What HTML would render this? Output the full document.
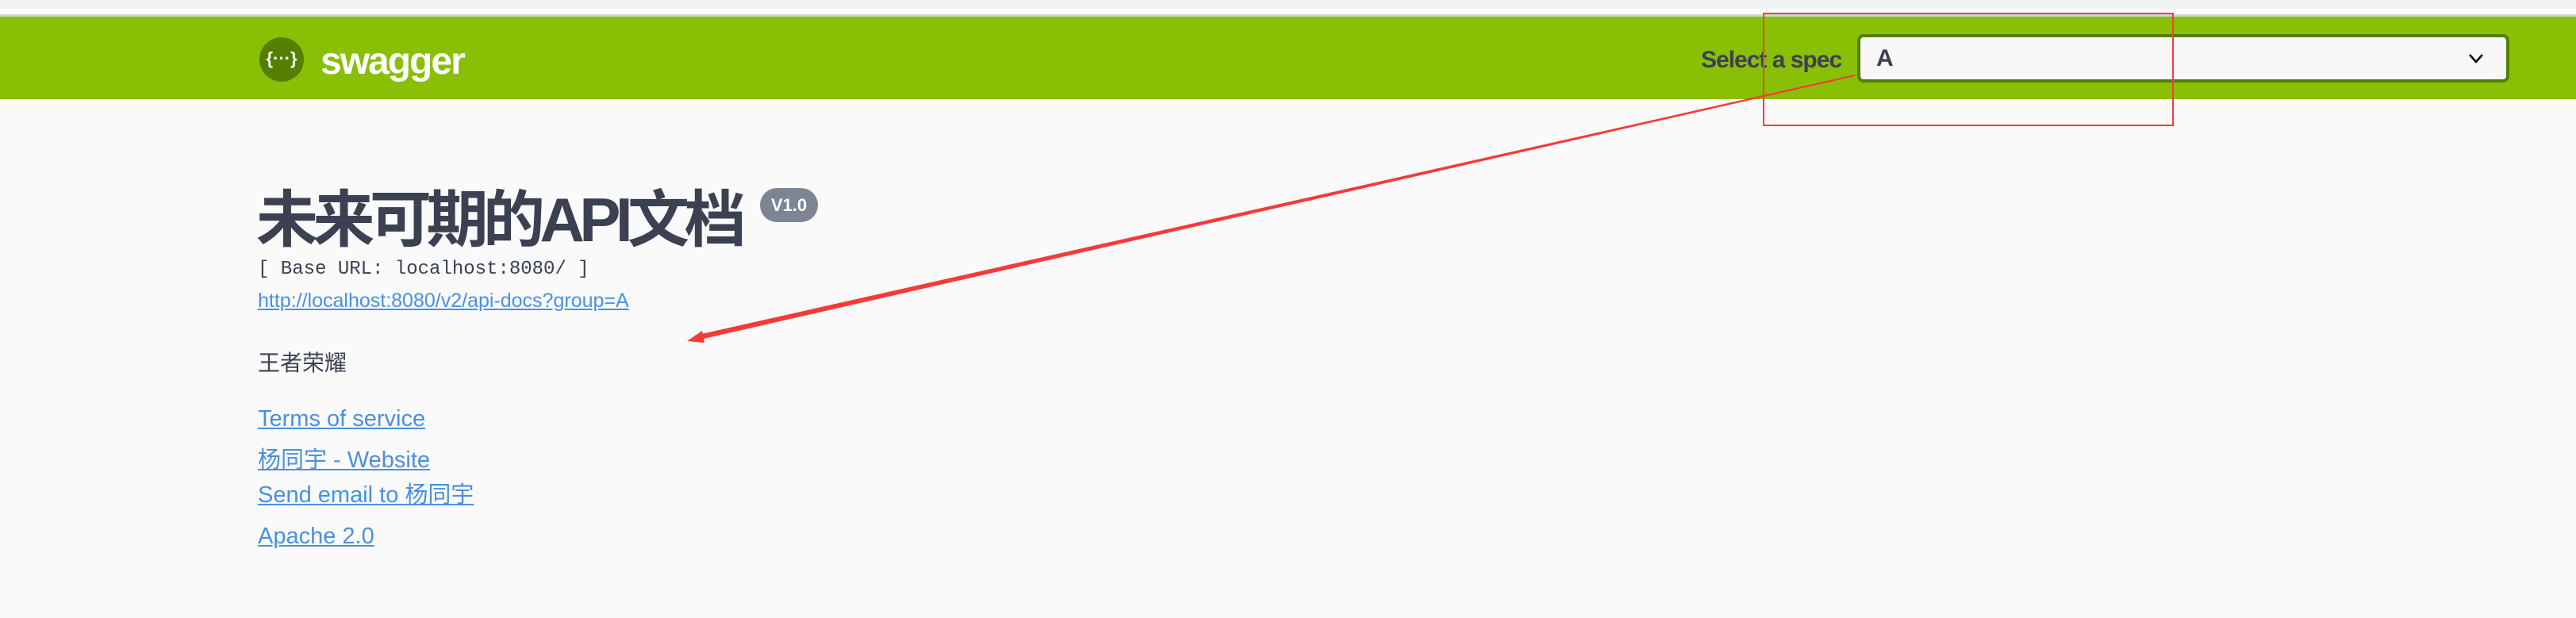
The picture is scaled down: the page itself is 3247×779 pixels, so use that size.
<!DOCTYPE html>
<html><head><meta charset="utf-8"><style>
*{margin:0;padding:0;box-sizing:border-box}
body{width:3247px;height:779px;background:#fafafa;position:relative;overflow:hidden;font-family:"Liberation Sans","Noto Sans CJK SC",sans-serif;color:#3b4151}
.abs{position:absolute;white-space:nowrap}
a{color:#4990e2;text-decoration:underline}
</style></head><body>
<div class="abs" style="left:0;top:0;width:3247px;height:11px;background:#f1f2f4"></div>
<div class="abs" style="left:0;top:18px;width:3247px;height:3px;background:#d4d4d4"></div>
<div class="abs" style="left:0;top:21px;width:3247px;height:104px;background:#89bf04"></div>
<div class="abs" style="left:327px;top:47px;width:56px;height:56px;border-radius:50%;background:#547f00;color:#fff;font-size:22px;line-height:54px;text-align:center;font-weight:bold">{···}</div>
<div class="abs" style="left:404px;top:50px;font-size:48px;font-weight:bold;color:#fff;letter-spacing:-2px;line-height:56px">swagger</div>
<div class="abs" style="left:2144px;top:58px;font-size:30px;font-weight:bold;letter-spacing:-1px;line-height:36px">Select a spec</div>
<div class="abs" style="left:2341px;top:43px;width:822px;height:61px;border:4px solid #547f00;border-radius:8px;background:#f7f7f7">
 <span style="position:absolute;left:20px;top:10px;font-size:30px;font-weight:bold;line-height:34px">A</span>
 <svg style="position:absolute;left:766px;top:20px" width="20" height="14"><polyline points="2,2 10,11 18,2" fill="none" stroke="#000" stroke-width="2.5"/></svg>
</div>
<div class="abs" style="left:323px;top:232px;font-size:78px;font-weight:bold;line-height:90px;letter-spacing:-6.5px">未来可期的API文档</div>
<div class="abs" style="left:958px;top:237px;width:73px;height:43px;border-radius:22px;background:#7d8492;color:#fff;font-size:22px;font-weight:bold;line-height:43px;text-align:center">V1.0</div>
<div class="abs" style="left:325px;top:326px;font-family:'Liberation Mono',monospace;font-size:24px;line-height:28px;color:#3b4151">[ Base URL: localhost:8080/ ]</div>
<a class="abs" href="#" style="left:325px;top:364px;font-size:25px;line-height:30px">http://localhost:8080/v2/api-docs?group=A</a>
<div class="abs" style="left:325px;top:441px;font-size:28px;line-height:34px">王者荣耀</div>
<a class="abs" href="#" style="left:325px;top:511px;font-size:29px;line-height:34px">Terms of service</a>
<a class="abs" href="#" style="left:325px;top:563px;font-size:29px;line-height:34px">杨同宇 - Website</a>
<a class="abs" href="#" style="left:325px;top:607px;font-size:29px;line-height:34px">Send email to 杨同宇</a>
<a class="abs" href="#" style="left:325px;top:659px;font-size:29px;line-height:34px">Apache 2.0</a>
<div class="abs" style="left:2222px;top:16px;width:518px;height:143px;border:2px solid #f04040"></div>
<svg class="abs" style="left:0;top:0" width="3247" height="779">
 <polygon points="2338,94 2338,96 878,429 875,423" fill="#f63a3a"/>
 <polygon points="866,430 885,417 888,432" fill="#f63a3a"/>
</svg>
</body></html>
